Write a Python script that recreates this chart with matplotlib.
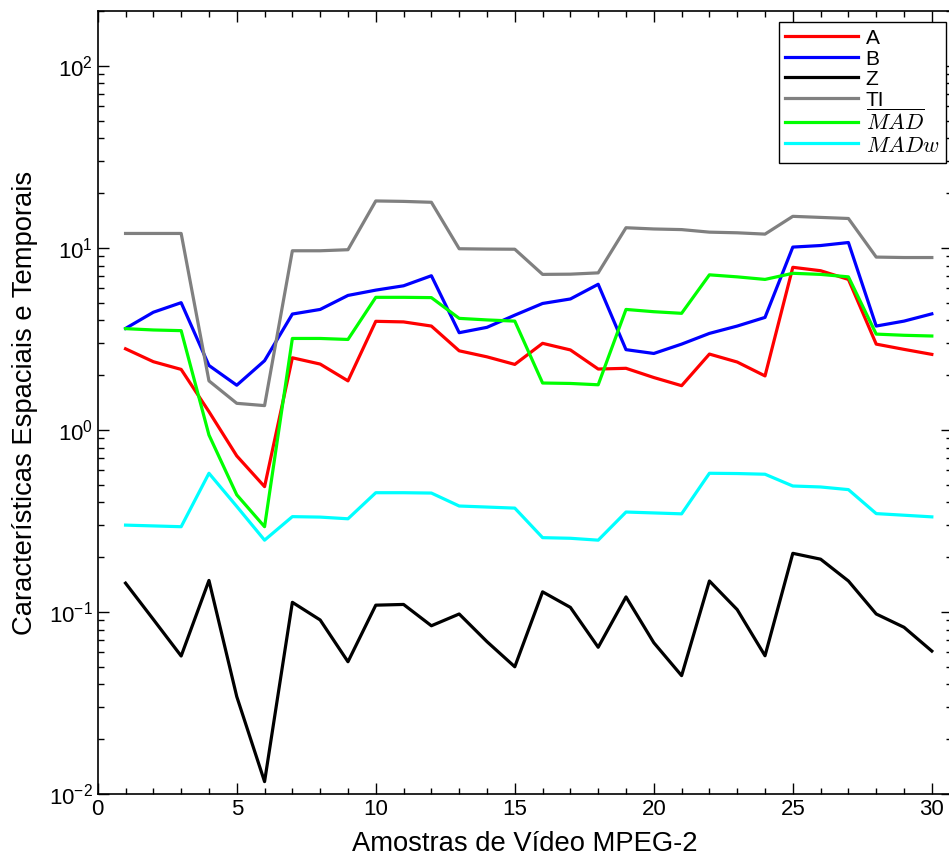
import numpy as np
import matplotlib
matplotlib.use('Agg')
import matplotlib.pyplot as plt
from matplotlib.ticker import LogLocator, MultipleLocator

plt.rcParams['font.family'] = ['Liberation Sans', 'DejaVu Sans']
plt.rcParams['mathtext.fontset'] = 'cm'

#-----------------------------------
#            data
#-----------------------------------
amostras = np.arange(1, 31)

A = [2.79, 2.37, 2.15, 1.26, 0.72, 0.488, 2.49, 2.30, 1.86, 3.95,
     3.92, 3.72, 2.72, 2.52, 2.29, 2.99, 2.75, 2.16, 2.18, 1.94,
     1.75, 2.61, 2.36, 1.98, 7.82, 7.49, 6.71, 2.96, 2.77, 2.60]

B = [3.61, 4.43, 5.00, 2.26, 1.76, 2.40, 4.33, 4.59, 5.48, 5.86,
     6.19, 7.03, 3.42, 3.66, 4.27, 4.95, 5.24, 6.31, 2.76, 2.63,
     2.96, 3.39, 3.72, 4.15, 10.1, 10.3, 10.7, 3.72, 3.96, 4.34]

Z = [0.144, 0.091, 0.0573, 0.149, 0.0343, 0.0117, 0.113, 0.0904, 0.0533, 0.109,
     0.110, 0.084, 0.0975, 0.0687, 0.050, 0.129, 0.106, 0.064, 0.121, 0.0678,
     0.0447, 0.148, 0.103, 0.0575, 0.210, 0.195, 0.148, 0.0975, 0.0824, 0.061]

TI = [12.0, 12.0, 12.0, 1.86, 1.40, 1.36, 9.64, 9.64, 9.77, 18.1,
      18.0, 17.8, 9.89, 9.85, 9.83, 7.15, 7.17, 7.29, 12.9, 12.7,
      12.6, 12.2, 12.1, 11.9, 14.9, 14.7, 14.5, 8.9, 8.85, 8.85]

MAD = [3.60, 3.54, 3.51, 0.938, 0.44, 0.294, 3.18, 3.18, 3.14, 5.35,
       5.35, 5.33, 4.10, 4.02, 3.96, 1.81, 1.80, 1.77, 4.59, 4.46,
       4.37, 7.11, 6.93, 6.71, 7.25, 7.15, 6.93, 3.36, 3.31, 3.28]

MADw = [0.300, 0.297, 0.294, 0.578, 0.38, 0.248, 0.334, 0.332, 0.325, 0.452,
        0.452, 0.450, 0.382, 0.377, 0.372, 0.256, 0.254, 0.248, 0.354, 0.350,
        0.346, 0.578, 0.576, 0.571, 0.492, 0.486, 0.470, 0.347, 0.340, 0.333]

serie = [A, B, Z, TI, MAD, MADw]
nazvy = ['A', 'B', 'Z', 'TI', r'$\overline{MAD}$', r'$MADw$']
barvy = ['#ff0000', '#0000ff', '#000000', '#808080', '#00ff00', '#00ffff']

#-----------------------------------
#            graf
#-----------------------------------
fig = plt.figure(figsize=(9.49, 8.6), dpi=100)
ax = fig.add_axes([0.103, 0.0767, 0.9, 0.9105])

for s, n, c in zip(serie, nazvy, barvy):
    ax.plot(amostras, s, color=c, linewidth=2.3, label=n)

ax.set_yscale('log')
ax.set_ylim(1e-2, 200)
ax.set_xlim(0, 30.72)
ax.xaxis.set_major_locator(MultipleLocator(5))
ax.xaxis.set_minor_locator(MultipleLocator(1))
ax.yaxis.set_major_locator(LogLocator(base=10, numticks=10))
ax.yaxis.set_minor_locator(LogLocator(base=10, subs=np.arange(2, 10), numticks=20))

ax.tick_params(which='both', direction='in', top=True, right=True, labelsize=16, width=1.0)
ax.tick_params(which='major', length=8)
ax.tick_params(which='minor', length=4.5)
for sp in ax.spines.values():
    sp.set_linewidth(1.2)

ax.set_xlabel('Amostras de Vídeo MPEG-2', fontsize=19.7, labelpad=8)
ax.set_ylabel('Características Espaciais e Temporais', fontsize=19.7, labelpad=8)

# legenda vpravo nahore
leg = ax.legend(loc='upper right', bbox_to_anchor=(945.7 / 949, 1 - 21.7 / 860),
                bbox_transform=fig.transFigure, borderaxespad=0, fontsize=15,
                fancybox=False, edgecolor='black', framealpha=1,
                handlelength=3.5, handleheight=1.0, handletextpad=0.35,
                labelspacing=0.0, borderpad=0.3)
for t in leg.get_texts()[4:]:
    t.set_fontsize(16)
leg.get_frame().set_linewidth(1.0)

plt.savefig('out.png', dpi=100)
